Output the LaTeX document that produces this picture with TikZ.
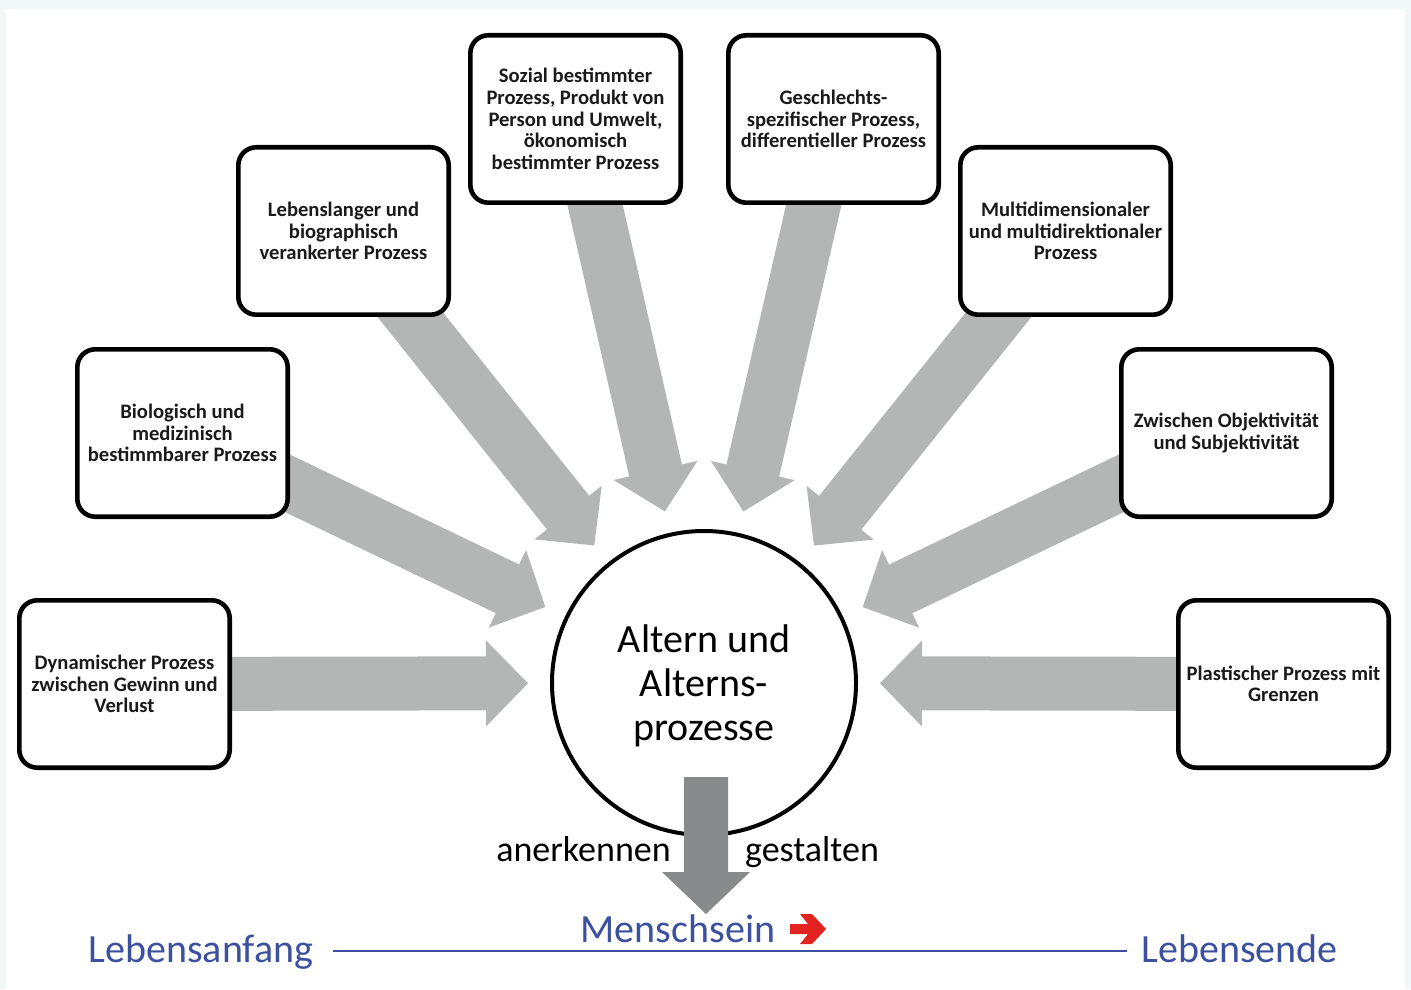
\documentclass[tikz,border=0pt]{standalone}
\usepackage{fontspec}
\setmainfont{Carlito}
\usetikzlibrary{calc,shadows}
\definecolor{pagebg}{HTML}{F2F7F7}
\definecolor{flowgrey}{HTML}{B4B5B5}
\definecolor{downgrey}{HTML}{888B8B}
\definecolor{lifeblue}{HTML}{3C50A0}
\definecolor{arrowred}{HTML}{E3231F}
\definecolor{boxtext}{HTML}{1A1A1A}
\pgfdeclarelayer{flows}
\pgfsetlayers{flows,main}
% block arrow: #1 start, #2 tip, #3 shaft half width, #4 head half width, #5 head length, #6 fill colour
\newcommand\blockarrow[6]{%
  \coordinate (ba-base) at ($(#2)!#5!(#1)$);
  \fill[#6] ($(#1)!#3!90:(#2)$) -- ($(ba-base)!#3!-90:(#1)$) -- ($(ba-base)!#4!-90:(#1)$)
    -- (#2) -- ($(ba-base)!#4!90:(#1)$) -- ($(ba-base)!#3!90:(#1)$) -- ($(#1)!#3!-90:(#2)$) -- cycle;
}
\begin{document}
\begin{tikzpicture}[x=0.5pt,y=-0.5pt,
  aspect/.style={draw=black, line width=2.3pt, fill=white, rounded corners=9pt,
    minimum width=105.2pt, minimum height=83.7pt, align=center, text=boxtext,
    font=\bfseries\fontsize{10.3}{10.8}\selectfont,
    drop shadow={shadow xshift=0.6pt, shadow yshift=-1pt, opacity=0.35, fill=black!70}},
  core/.style={draw=black, line width=2pt, fill=white, circle, minimum size=152pt, inner sep=0pt},
  coretext/.style={align=center, font=\fontsize{20}{22}\selectfont},
  verb/.style={anchor=base, font=\fontsize{18}{20}\selectfont},
  life/.style={anchor=base, text=lifeblue, font=\fontsize{20}{22}\selectfont}]
\useasboundingbox (0,0) rectangle (1411,989);

% aspect boxes around the centre
\node[aspect] (b1) at (124.5,684) {Dynamischer Prozess\\zwischen Gewinn und\\Verlust};
\node[aspect] (b2) at (182.5,433) {Biologisch und\\medizinisch\\bestimmbarer Prozess};
\node[aspect] (b3) at (343.5,231) {Lebenslanger und\\biographisch\\verankerter Prozess};
\node[aspect] (b4) at (575.5,119) {Sozial bestimmter\\Prozess, Produkt von\\Person und Umwelt,\\ökonomisch\\bestimmter Prozess};
\node[aspect] (b5) at (833.5,119) {Geschlechts-\\spezifischer Prozess,\\differentieller Prozess};
\node[aspect] (b6) at (1065.5,231) {Multidimensionaler\\und multidirektionaler\\Prozess};
\node[aspect] (b7) at (1226.5,433) {Zwischen Objektivität\\und Subjektivität};
\node[aspect] (b8) at (1283.5,684) {Plastischer Prozess mit\\Grenzen};

\node[core] (c) at (704,683) {};
\node[coretext] (ct) at (704,686) {Altern und\\Alterns-\\prozesse};

% page background and grey arrows behind the boxes
\begin{pgfonlayer}{flows}
  \fill[pagebg] (0,0) rectangle (1411,989);
  \fill[white] (6,9) rectangle (1405,989);
  \foreach \k in {1,...,8} {
    \coordinate (t\k) at ($(c.center)!88pt!(b\k.center)$);
    \blockarrow{b\k.center}{t\k}{13.5pt}{21.5pt}{21pt}{flowgrey}
  }
\end{pgfonlayer}

% downward arrow out of the circle
\coordinate (dtop) at (706,777);
\coordinate (dtip) at (706,914);
\blockarrow{dtop}{dtip}{11pt}{22pt}{21pt}{downgrey}

\node[verb] (ak) at (583.5,861) {anerkennen};
\node[verb] (gs) at (812,861) {gestalten};

% life line
\node[life] (ms) at (678,942) {Menschsein};
\node[life] (la) at (201,962) {Lebensanfang};
\node[life] (le) at (1239.5,962) {Lebensende};
\coordinate (lstart) at (333,951);
\coordinate (lend) at (1127,951);
\draw[lifeblue, line width=1.2pt] (lstart) -- (lend);

\fill[arrowred] (790,924) -- (808,924) -- (800,914) -- (812,914) -- (826,929)
  -- (812,944) -- (800,944) -- (808,934) -- (790,934) -- cycle;
\end{tikzpicture}
\end{document}
